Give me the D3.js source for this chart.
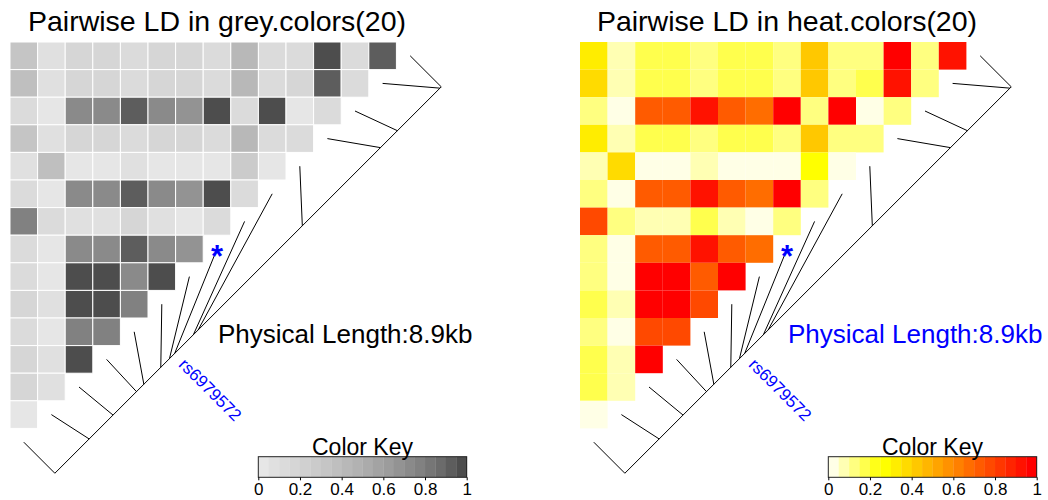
<!DOCTYPE html>
<html>
<head>
<meta charset="utf-8">
<script src="https://cdn.jsdelivr.net/npm/d3@7"></script>
<style>
body { margin: 0; background: #fff; }
text { font-family: "Liberation Sans", Arial, Helvetica, sans-serif; }
</style>
</head>
<body>
<div id="chart-area"></div>
<script>
var width = 1048;
var height = 500;

// pairwise LD, one array per row of the triangle (top row first)
var ldRows = [
    [0.32, 0.07, 0.17, 0.17, 0.12, 0.17, 0.17, 0.12, 0.42, 0.12, 0.12, 0.98, 0.12, 0.92],
    [0.37, 0.07, 0.17, 0.17, 0.12, 0.17, 0.17, 0.12, 0.42, 0.12, 0.17, 0.92, 0.12],
    [0.12, 0.02, 0.72, 0.72, 0.92, 0.72, 0.67, 0.98, 0.12, 0.98, 0.02, 0.12],
    [0.32, 0.07, 0.17, 0.17, 0.12, 0.17, 0.17, 0.12, 0.42, 0.12, 0.12],
    [0.07, 0.37, 0.02, 0.02, 0.07, 0.02, 0.02, 0.02, 0.27, 0.02],
    [0.12, 0.02, 0.72, 0.72, 0.92, 0.72, 0.67, 0.98, 0.12],
    [0.77, 0.12, 0.07, 0.07, 0.17, 0.07, 0.02, 0.12],
    [0.12, 0.02, 0.72, 0.72, 0.92, 0.72, 0.67],
    [0.12, 0.02, 0.98, 0.98, 0.72, 0.98],
    [0.17, 0.07, 0.98, 0.98, 0.77],
    [0.12, 0.02, 0.77, 0.77],
    [0.17, 0.07, 0.98],
    [0.17, 0.07],
    [0.02]
];

// SNP physical positions (kb from first SNP)
var snpPosKb = [0, 0.03, 1.01, 1.40, 3.20, 5.60, 5.71, 6.14, 6.26, 6.46, 6.85, 7.02, 7.56, 8.11, 8.90];
var markedSnp = 7;
var markedName = "rs6979572";

var keyTicks = [0, 0.2, 0.4, 0.6, 0.8, 1];
var panelTitles = ["Pairwise LD in grey.colors(20)", "Pairwise LD in heat.colors(20)"];
var lengthColors = ["black", "blue"];
var panelX = [10, 580];

var nSnp = snpPosKb.length;
var cell = 27.6;
var top0 = 42;
var nCol = 20;

// R grey.colors(20), reversed so 0 is light
function greyPal(n) {
    var a = Math.pow(0.9, 2.2), b = Math.pow(0.3, 2.2);
    return d3.range(n).map(function(i) {
        var v = Math.round(255 * Math.pow(a + (b - a) * i / (n - 1), 1 / 2.2));
        return d3.rgb(v, v, v).formatHex();
    });
}
// R heat.colors(20), reversed so 0 is pale yellow
function heatPal(n) {
    var j = Math.floor(n / 4), i = n - j;
    var cols = d3.range(i).map(function(k) {
        return d3.rgb(255, Math.round(255 * k / (i - 1)), 0).formatHex();
    });
    d3.range(j).forEach(function(k) {
        var s = 1 - 1 / (2 * j) - k * (1 - 1 / j) / (j - 1);
        cols.push(d3.rgb(255, 255, Math.round(255 * (1 - s))).formatHex());
    });
    return cols.reverse();
}
var palettes = [greyPal(nCol), heatPal(nCol)];

var svg = d3.select("#chart-area")
    .append("svg")
    .attr("width", width)
    .attr("height", height);

var band = d3.scaleBand().domain(d3.range(nSnp)).range([0, nSnp * cell]);
var off = 0.075 * nSnp * cell;

panelX.forEach(function(ox, p) {
    var g = svg.append("g");
    var color = d3.scaleQuantize().domain([0, 1]).range(palettes[p]);

    var cells = [];
    ldRows.forEach(function(row, r) {
        row.forEach(function(v, c) { cells.push({r: r, c: c, v: v}); });
    });

    g.selectAll("rect.ld").data(cells).enter()
        .append("rect")
        .attr("class", "ld")
        .attr("x", (d) => ox + band(d.c))
        .attr("y", (d) => top0 + band(d.r))
        .attr("width", cell)
        .attr("height", cell)
        .attr("fill", (d) => color(d.v))
        .attr("stroke", p == 0 ? "white" : "none")
        .attr("stroke-width", 1);

    var diagX = (k) => ox + band(nSnp - 1 - k) + cell / 2;
    var diagY = (k) => top0 + band(k) + cell / 2;

    var mapX = d3.scaleLinear()
        .domain([snpPosKb[0], snpPosKb[nSnp - 1]])
        .range([diagX(0) + off, diagX(nSnp - 1) + off]);
    var mapY = d3.scaleLinear()
        .domain([snpPosKb[0], snpPosKb[nSnp - 1]])
        .range([diagY(0) + off, diagY(nSnp - 1) + off]);

    g.append("line")
        .attr("x1", mapX(snpPosKb[0]))
        .attr("y1", mapY(snpPosKb[0]))
        .attr("x2", mapX(snpPosKb[nSnp - 1]))
        .attr("y2", mapY(snpPosKb[nSnp - 1]))
        .attr("stroke", "black")
        .attr("stroke-width", 1);

    g.selectAll("line.seg").data(snpPosKb).enter()
        .append("line")
        .attr("class", "seg")
        .attr("x1", (d, k) => diagX(k))
        .attr("y1", (d, k) => diagY(k))
        .attr("x2", (d) => mapX(d))
        .attr("y2", (d) => mapY(d))
        .attr("stroke", "black")
        .attr("stroke-width", 1);

    g.append("text")
        .attr("x", diagX(markedSnp))
        .attr("y", diagY(markedSnp) + 18)
        .attr("text-anchor", "middle")
        .attr("font-size", "31px")
        .attr("font-weight", "bold")
        .attr("fill", "blue")
        .text("*");

    var lx = mapX(snpPosKb[markedSnp]) + 3;
    var ly = mapY(snpPosKb[markedSnp]) + 12;
    g.append("text")
        .attr("transform", "translate(" + lx + "," + ly + ") rotate(45)")
        .attr("font-size", "17px")
        .attr("fill", "blue")
        .text(markedName);

    g.append("text")
        .attr("x", ox + 208)
        .attr("y", 343)
        .attr("font-size", "26px")
        .attr("fill", lengthColors[p])
        .text("Physical Length:" + d3.format(".1f")(snpPosKb[nSnp - 1] - snpPosKb[0]) + "kb");

    g.append("text")
        .attr("x", ox + 207)
        .attr("y", 31)
        .attr("text-anchor", "middle")
        .attr("font-size", "28.5px")
        .text(panelTitles[p]);

    // color key
    var keyX = d3.scaleLinear().domain([0, 1]).range([ox + 248.3, ox + 456.7]);
    var keyTop = 456.7, keyH = 20.6;
    var bins = d3.range(nCol).map((i) => i / nCol);
    g.selectAll("rect.key").data(bins).enter()
        .append("rect")
        .attr("class", "key")
        .attr("x", (d) => keyX(d))
        .attr("y", keyTop)
        .attr("width", keyX(1 / nCol) - keyX(0) + 0.3)
        .attr("height", keyH)
        .attr("fill", (d) => color(d + 0.5 / nCol));
    g.append("rect")
        .attr("x", keyX(0))
        .attr("y", keyTop)
        .attr("width", keyX(1) - keyX(0))
        .attr("height", keyH)
        .attr("fill", "none")
        .attr("stroke", "#222")
        .attr("stroke-width", 1);

    var axis = g.append("g")
        .attr("transform", "translate(0," + (keyTop + keyH) + ")")
        .call(d3.axisBottom(keyX).tickValues(keyTicks).tickSize(3).tickFormat(d3.format("")));
    axis.select(".domain").remove();
    axis.selectAll("text")
        .attr("font-size", "17px")
        .attr("font-family", "Liberation Sans, Arial, sans-serif")
        .attr("fill", "black");

    g.append("text")
        .attr("x", keyX(0.5))
        .attr("y", 455)
        .attr("text-anchor", "middle")
        .attr("font-size", "23px")
        .text("Color Key");
});
</script>
</body>
</html>
